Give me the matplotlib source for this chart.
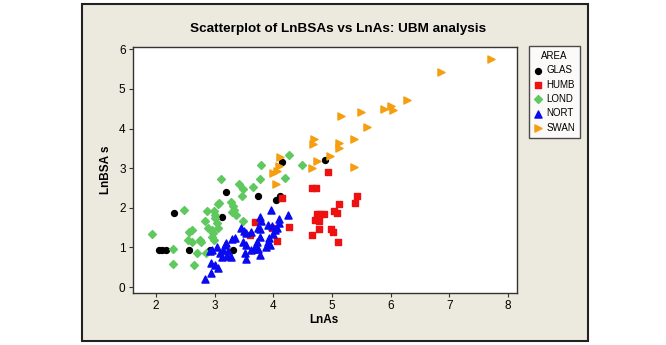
import matplotlib
matplotlib.use('Agg')
import matplotlib.pyplot as plt
from matplotlib.patches import Rectangle

plt.rcParams['font.family'] = ['Liberation Sans', 'DejaVu Sans']

# data
glas_x = [2.05, 2.11, 2.17, 2.30, 2.56, 2.92, 3.13, 3.20, 3.31, 3.73, 4.05, 4.12, 4.14, 4.88]
glas_y = [0.93, 0.93, 0.93, 1.87, 0.93, 0.93, 1.78, 2.40, 0.93, 2.31, 2.20, 2.31, 3.15, 3.21]

humb_x = [3.60, 3.68, 3.97, 4.06, 4.15, 4.27, 4.65, 4.72, 4.93, 4.74, 4.80, 4.87,
          4.71, 4.78, 4.77, 4.66, 4.98, 5.02, 5.03, 5.08, 5.10, 5.12, 5.39, 5.42]
humb_y = [1.31, 1.63, 1.49, 1.16, 2.24, 1.51, 2.51, 2.51, 2.91, 1.85, 1.85, 1.85,
          1.70, 1.66, 1.47, 1.31, 1.47, 1.38, 1.91, 1.87, 1.14, 2.09, 2.11, 2.31]

lond_x = [1.94, 2.29, 2.29, 2.47, 2.56, 2.61, 2.55, 2.62, 2.64, 2.70, 2.75, 2.77,
          2.85, 2.84, 2.87, 2.88, 2.95, 2.97, 2.96, 2.99, 2.98, 3.00, 3.01, 3.04,
          3.06, 3.05, 3.08, 3.10, 3.27, 3.31, 3.33, 3.37, 3.49, 3.42, 3.48, 3.47,
          3.65, 3.77, 3.79, 4.20, 4.26, 4.48, 3.29]
lond_y = [1.33, 0.96, 0.57, 1.95, 1.40, 1.44, 1.19, 1.15, 0.55, 0.87, 1.20, 1.15,
          0.87, 1.67, 1.92, 1.49, 1.45, 1.36, 1.27, 1.20, 1.93, 1.83, 1.74, 1.62,
          1.50, 2.10, 2.13, 2.72, 2.14, 2.05, 1.95, 1.83, 1.68, 2.59, 2.48, 2.30,
          2.53, 2.74, 3.07, 2.76, 3.33, 3.07, 1.90]

nort_x = [2.84, 2.94, 2.93, 3.01, 3.06, 2.92, 2.95, 3.04, 3.09, 3.12, 3.14, 3.17,
          3.19, 3.21, 3.23, 3.27, 3.30, 3.34, 3.44, 3.50, 3.54, 3.49, 3.53, 3.51,
          3.53, 3.62, 3.62, 3.67, 3.72, 3.71, 3.74, 3.77, 3.78, 3.79, 3.74, 3.78,
          3.77, 3.91, 3.97, 3.96, 3.93, 3.90, 3.94, 3.99, 4.02, 4.07, 4.10, 4.09,
          4.25, 3.88]
nort_y = [0.21, 0.36, 0.60, 0.55, 0.49, 0.90, 0.93, 1.01, 0.86, 0.77, 0.93, 1.07,
          1.12, 0.78, 0.90, 0.75, 1.21, 1.23, 1.49, 1.42, 1.36, 1.14, 1.06, 0.85,
          0.71, 1.40, 0.93, 0.95, 1.15, 1.03, 0.97, 0.82, 1.77, 1.68, 1.49, 1.46,
          1.26, 1.57, 1.53, 1.94, 1.24, 1.15, 1.07, 1.34, 1.45, 1.49, 1.62, 1.72,
          1.82, 1.01]

swan_x = [4.05, 4.00, 4.06, 4.10, 4.12, 4.65, 4.75, 4.96, 4.69, 4.68, 5.12, 5.12,
          5.38, 5.38, 5.15, 5.50, 5.60, 5.88, 6.01, 6.04, 6.27, 6.85, 7.70]
swan_y = [2.59, 2.87, 2.93, 3.05, 3.29, 3.01, 3.18, 3.30, 3.74, 3.60, 3.64, 3.51,
          3.74, 3.02, 4.31, 4.42, 4.04, 4.49, 4.58, 4.46, 4.73, 5.42, 5.75]

W, H = 666, 345
fig = plt.figure(figsize=(W / 100, H / 100), dpi=100)
fig.patch.set_facecolor('white')

# beige panel with dark border
fig.patches.append(Rectangle((82 / W, 1 - 341 / H), (588 - 82) / W, (341 - 4) / H,
                             transform=fig.transFigure, facecolor='#ECE9DE',
                             edgecolor='#222222', linewidth=1.5, zorder=-5))

ax = fig.add_axes([132.5 / W, 1 - 293 / H, (517 - 132.5) / W, (293 - 47) / H])
ax.set_zorder(2)
ax.set_facecolor('white')

ax.scatter(glas_x, glas_y, marker='o', s=18, color='black', label='GLAS', zorder=3)
ax.scatter(humb_x, humb_y, marker='s', s=20, color='#EE1111', label='HUMB', zorder=3)
ax.scatter(lond_x, lond_y, marker='D', s=16, color='#5FC95F', label='LOND', zorder=3)
ax.scatter(nort_x, nort_y, marker='^', s=26, color='#0A0AF0', label='NORT', zorder=3)
ax.scatter(swan_x, swan_y, marker='>', s=26, color='#F59E10', label='SWAN', zorder=3)

ax.set_xlim(1.6, 8.15)
ax.set_ylim(-0.15, 6.06)
ax.set_xticks(range(2, 9))
ax.set_yticks(range(0, 7))
for sp in ax.spines.values():
    sp.set_color('#333333')
    sp.set_linewidth(1.0)
ax.tick_params(direction='out', length=3, width=0.8, color='#333333',
               labelsize=8.5, pad=2)

fig.text(338 / W, 1 - 29 / H, 'Scatterplot of LnBSAs vs LnAs: UBM analysis',
         ha='center', va='center', fontsize=9.7, fontweight='bold')
fig.text(324 / W, 1 - 320 / H, 'LnAs', ha='center', va='center',
         fontsize=8.5, fontweight='bold')
fig.text(106 / W, 1 - 170 / H, 'LnBSA s', ha='center', va='center',
         rotation=90, fontsize=8.5, fontweight='bold')

leg = fig.legend(loc='upper left', bbox_to_anchor=(528.6 / W, 1 - 46 / H),
                 title='AREA', fontsize=7, title_fontsize=7, frameon=True,
                 fancybox=False, borderaxespad=0, handletextpad=0.3,
                 labelspacing=0.45, handlelength=1.0, borderpad=0.5)
leg.get_frame().set_edgecolor('#222222')
leg.get_frame().set_linewidth(1.0)

fig.savefig('out.png', dpi=100)
